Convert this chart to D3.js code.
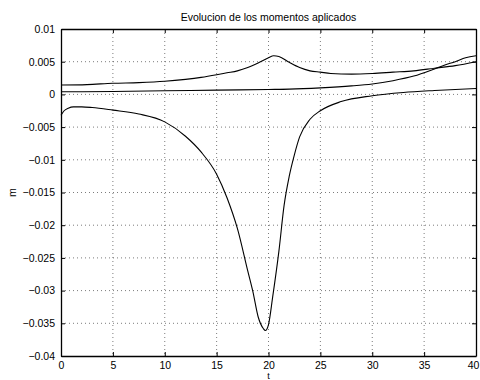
<!DOCTYPE html>
<html>
<head>
<meta charset="utf-8">
<script src="https://cdn.jsdelivr.net/npm/d3@7"></script>
<style>
  body { margin: 0; background: #fff; }
  svg { display: block; font-family: "Liberation Sans", Arial, sans-serif; }
</style>
</head>
<body>
<svg id="chart"></svg>
<script>
// tick values
const xTicks = [0, 5, 10, 15, 20, 25, 30, 35, 40];
const yTicks = [0.01, 0.005, 0, -0.005, -0.01, -0.015, -0.02, -0.025, -0.03, -0.035, -0.04];

// series: [t, m]
const serieBump = [
  [0, 0.00143], [2.5, 0.0015], [5, 0.0017], [7.5, 0.0018], [10, 0.002], [12, 0.0023],
  [13.5, 0.0026], [15, 0.003], [16, 0.0033], [17, 0.0036], [18, 0.0041], [19, 0.0048],
  [20, 0.0056], [20.5, 0.0059], [21, 0.0058], [22, 0.0049], [23, 0.0041], [24, 0.0036],
  [25, 0.0034], [26, 0.0032], [28, 0.0031], [30, 0.0032], [32, 0.0034], [34, 0.0036],
  [36, 0.004], [38, 0.0044], [40, 0.005]
];
const serieFlat = [
  [0, 0.0004], [5, 0.00045], [10, 0.00055], [15, 0.00065], [20, 0.00075], [22, 0.0008],
  [25, 0.001], [28, 0.0013], [30, 0.0016], [32, 0.0021], [34, 0.0028], [36, 0.0039],
  [37, 0.0045], [38, 0.005], [39, 0.0056], [40, 0.0059]
];
const serieDip = [
  [0, -0.0032], [0.3, -0.0025], [0.7, -0.0021], [1.2, -0.0019], [2, -0.0019], [3, -0.002],
  [5, -0.0024], [7.5, -0.003], [10, -0.0042], [12, -0.0064], [13.5, -0.0088], [15, -0.0122],
  [16, -0.0158], [17, -0.0205], [18, -0.027], [18.5, -0.0302], [19, -0.034], [19.5, -0.0358],
  [19.7, -0.0361], [20, -0.0352], [20.4, -0.031], [21, -0.024], [21.5, -0.017], [22, -0.0125],
  [22.5, -0.0092], [23, -0.0065], [24, -0.0038], [25, -0.0025], [27, -0.0011], [30, -0.0002],
  [33, 0.0003], [36, 0.0006], [40, 0.0009]
];

const W = 480, H = 380;
const margin = { top: 29, right: 4, bottom: 24, left: 61 };
const width = W - margin.left - margin.right;
const height = H - margin.top - margin.bottom;

const svg = d3.select('#chart').attr('width', W).attr('height', H);
const g = svg.append('g').attr('transform', `translate(${margin.left},${margin.top})`);

const x = d3.scaleLinear().domain([0, 40]).range([0, width]);
const y = d3.scaleLinear().domain([-0.04, 0.01]).range([height, 0]);

const fmtY = d => d === 0 ? '0' : d3.format('')(+d.toFixed(3)).replace('-', '\u2212');

// grid
g.append('g').selectAll('line').data(xTicks.slice(1, -1)).join('line')
  .attr('x1', d => x(d)).attr('x2', d => x(d)).attr('y1', 0).attr('y2', height)
  .attr('stroke', '#444').attr('stroke-width', 0.7).attr('stroke-dasharray', '1,3');
g.append('g').selectAll('line').data(yTicks.slice(1, -1)).join('line')
  .attr('y1', d => y(d)).attr('y2', d => y(d)).attr('x1', 0).attr('x2', width)
  .attr('stroke', '#444').attr('stroke-width', 0.7).attr('stroke-dasharray', '1,3');

// axes (ticks pointing inward, box on)
const xAxisG = g.append('g').attr('transform', `translate(0,${height})`)
  .call(d3.axisBottom(x).tickValues(xTicks).tickSizeInner(-4).tickSizeOuter(0).tickPadding(6));
g.append('g')
  .call(d3.axisLeft(y).tickValues(yTicks).tickFormat(fmtY).tickSizeInner(-4).tickSizeOuter(0).tickPadding(6));
g.append('g')
  .call(d3.axisTop(x).tickValues(xTicks).tickSizeInner(-4).tickSizeOuter(0).tickFormat(''));
g.append('g').attr('transform', `translate(${width},0)`)
  .call(d3.axisRight(y).tickValues(yTicks).tickSizeInner(-4).tickSizeOuter(0).tickFormat(''));

g.selectAll('.domain').attr('stroke', '#000').attr('stroke-width', 1.3);
g.selectAll('.tick line').attr('stroke', '#000');
g.selectAll('.tick text').attr('font-size', 10.5).attr('fill', '#000')
  .attr('font-family', '"Liberation Sans", Arial, sans-serif');
// keep the last x label inside the window
xAxisG.selectAll('.tick text').filter(d => d === 40).attr('dx', '-3');

// curves
const line = d3.line().x(d => x(d[0])).y(d => y(d[1])).curve(d3.curveMonotoneX);
[serieBump, serieFlat, serieDip].forEach(s => {
  g.append('path').datum(s).attr('d', line)
    .attr('fill', 'none').attr('stroke', '#000').attr('stroke-width', 1.1);
});

// labels
svg.append('text').attr('x', margin.left + width / 2).attr('y', 21)
  .attr('text-anchor', 'middle').attr('font-size', 10.5).text('Evolucion de los momentos aplicados');
svg.append('text').attr('x', margin.left + width / 2).attr('y', 379)
  .attr('text-anchor', 'middle').attr('font-size', 9).text('t');
svg.append('text').attr('transform', `translate(16,${margin.top + height / 2}) rotate(-90)`)
  .attr('text-anchor', 'middle').attr('font-size', 10.5).text('m');
</script>
</body>
</html>
